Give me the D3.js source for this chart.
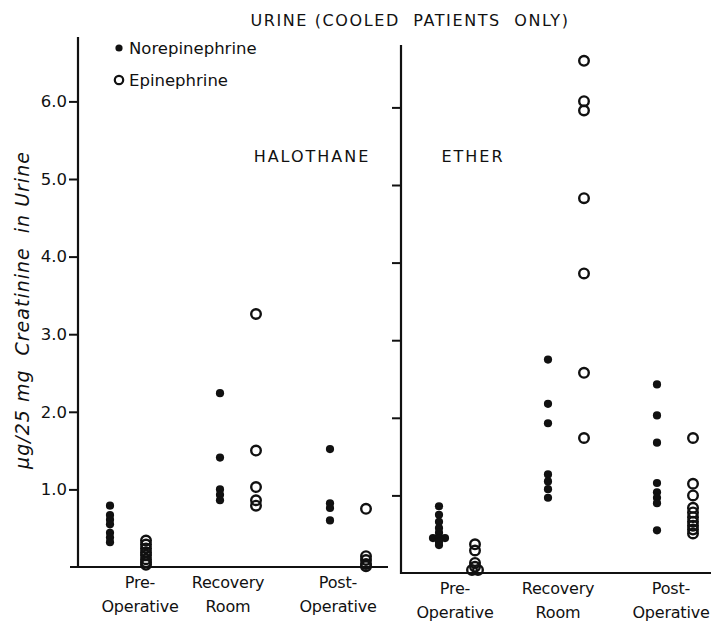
<!DOCTYPE html>
<html>
<head>
<meta charset="utf-8">
<script src="https://cdn.jsdelivr.net/npm/d3@7"></script>
<style>
	body { margin: 0; background: #fff; }
	text { font-family: "DejaVu Sans", sans-serif; fill: #111; }
</style>
</head>
<body>
<div id="app"></div>
<script>
// categories and tick labels
const phases = ["Pre-Operative", "Recovery Room", "Post-Operative"];
const phaseLines = [["Pre-", "Operative"], ["Recovery", "Room"], ["Post-", "Operative"]];
const yTicks = [1, 2, 3, 4, 5, 6];
const yTickLabels = ["1.0", "2.0", "3.0", "4.0", "5.0", "6.0"];

// halothane, values per phase
const halNorepi = [
	[0.79, 0.67, 0.61, 0.55, 0.44, 0.38, 0.32],
	[2.24, 1.41, 1.00, 0.93, 0.86],
	[1.52, 0.82, 0.76, 0.60]
];
const halEpi = [
	[0.34, 0.29, 0.24, 0.19, 0.15, 0.10, 0.06, 0.03],
	[3.26, 1.50, 1.03, 0.86, 0.79],
	[0.75, 0.14, 0.09, 0.04, 0.01]
];

// ether, values per phase
const ethNorepi = [
	[0.86, 0.75, 0.66, 0.58, 0.52, 0.45, 0.45, 0.45, 0.40, 0.36],
	[2.75, 2.18, 1.93, 1.27, 1.18, 1.08, 0.97],
	[2.43, 2.03, 1.68, 1.16, 1.04, 0.97, 0.90, 0.55]
];
const ethEpi = [
	[0.37, 0.29, 0.13, 0.08, 0.04, 0.04],
	[6.60, 6.08, 5.96, 4.83, 3.86, 2.58, 1.74],
	[1.74, 1.15, 1.00, 0.84, 0.78, 0.72, 0.66, 0.61, 0.56, 0.51]
];

const width = 711, height = 623;

const svg = d3.select("#app").append("svg")
	.attr("width", width)
	.attr("height", height);

svg.append("text")
	.attr("x", 410).attr("y", 26)
	.attr("text-anchor", "middle")
	.attr("font-size", 16)
	.attr("letter-spacing", 1.6)
	.attr("xml:space", "preserve")
	.text("URINE (COOLED  PATIENTS  ONLY)");

svg.append("text")
	.attr("transform", "translate(29,310) rotate(-90)")
	.attr("text-anchor", "middle")
	.attr("font-size", 19)
	.attr("font-style", "italic")
	.attr("letter-spacing", 1)
	.attr("xml:space", "preserve")
	.text("\u03bcg/25 mg  Creatinine  in Urine");

const panels = [
	{ name: "HALOTHANE", norepi: halNorepi, epi: halEpi, x0: 78, x1: 388, xBase: 70, top: 37, zero: 567, pts: [128, 348], labels: true, nameX: 312, shift: [12, -10, -10] },
	{ name: "ETHER", norepi: ethNorepi, epi: ethEpi, x0: 401, x1: 711, xBase: 401, top: 45, zero: 573, pts: [457, 675], labels: false, nameX: 473, shift: [-2, -8, -4] }
];

panels.forEach(p => {
	const y = d3.scaleLinear().domain([0, 6]).range([p.zero, p.zero - 6 * 77.6]);
	const x = d3.scalePoint().domain(phases).range(p.pts);
	const g = svg.append("g");

	// vertical axis
	const yAxis = d3.axisLeft(y)
		.tickValues(yTicks)
		.tickSize(9)
		.tickFormat((d, i) => p.labels ? yTickLabels[i] : "");
	const ya = g.append("g")
		.attr("transform", `translate(${p.x0},0)`)
		.call(yAxis);
	ya.select(".domain").remove();
	ya.selectAll(".tick line").attr("stroke", "#111").attr("stroke-width", 2);
	ya.selectAll(".tick text")
		.attr("font-size", 16.5)
		.attr("font-family", "DejaVu Sans, sans-serif")
		.attr("fill", "#111")
		.attr("dx", 1);

	g.append("line")
		.attr("x1", p.x0).attr("x2", p.x0)
		.attr("y1", p.top).attr("y2", p.zero + 1)
		.attr("stroke", "#111").attr("stroke-width", 2.2);
	g.append("line")
		.attr("x1", p.xBase).attr("x2", p.x1)
		.attr("y1", p.zero).attr("y2", p.zero)
		.attr("stroke", "#111").attr("stroke-width", 2.2);

	// category labels
	phases.forEach((ph, i) => {
		const t = g.append("text")
			.attr("text-anchor", "middle")
			.attr("font-size", 16)
			.attr("letter-spacing", -0.2);
		phaseLines[i].forEach((ln, j) => {
			t.append("tspan")
				.attr("x", x(ph) + p.shift[i])
				.attr("y", p.zero + 21 + j * 24)
				.text(ln);
		});
	});

	g.append("text")
		.attr("x", p.nameX).attr("y", 162)
		.attr("text-anchor", "middle")
		.attr("font-size", 16)
		.attr("letter-spacing", 2)
		.text(p.name);

	// repeated values get spread sideways a little
	function spread(vals) {
		const seen = {};
		return vals.map(v => {
			const k = v.toFixed(2);
			const n = seen[k] = (seen[k] || 0) + 1;
			const total = vals.filter(w => w.toFixed(2) === k).length;
			return { v, dx: total > 1 ? (n - 1 - (total - 1) / 2) * 6 : 0 };
		});
	}

	phases.forEach((ph, i) => {
		g.selectAll(null)
			.data(spread(p.norepi[i]))
			.enter().append("circle")
			.attr("cx", d => x(ph) - 18 + d.dx)
			.attr("cy", d => y(d.v))
			.attr("r", 4.1)
			.attr("fill", "#111");
		g.selectAll(null)
			.data(spread(p.epi[i]))
			.enter().append("circle")
			.attr("cx", d => x(ph) + 18 + d.dx)
			.attr("cy", d => y(d.v))
			.attr("r", 4.8)
			.attr("fill", "none")
			.attr("stroke", "#111")
			.attr("stroke-width", 2.4);
	});
});

// legend
const legend = svg.append("g");
legend.append("circle").attr("cx", 119).attr("cy", 48).attr("r", 3.6).attr("fill", "#111");
legend.append("text").attr("x", 129).attr("y", 54).attr("font-size", 16.5).text("Norepinephrine");
legend.append("circle").attr("cx", 119).attr("cy", 80).attr("r", 4.2).attr("fill", "none")
	.attr("stroke", "#111").attr("stroke-width", 2.2);
legend.append("text").attr("x", 129).attr("y", 86).attr("font-size", 16.5).text("Epinephrine");
</script>
</body>
</html>
